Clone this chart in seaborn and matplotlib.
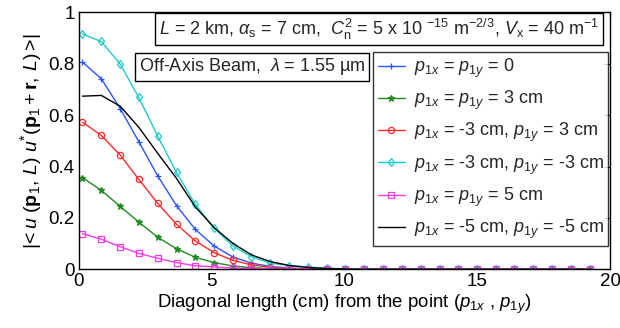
import numpy as np
import pandas as pd
import matplotlib
matplotlib.use("Agg")
import matplotlib.pyplot as plt
import seaborn as sns

sns.set_theme(style="white")
plt.rcParams['font.family'] = ['Liberation Sans', 'DejaVu Sans']
plt.rcParams['mathtext.fontset'] = 'custom'
plt.rcParams['mathtext.rm'] = 'Liberation Sans'
plt.rcParams['mathtext.it'] = 'Liberation Sans:italic'
plt.rcParams['mathtext.bf'] = 'Liberation Sans:bold'

# diagonal distance (cm)
dist = [0.14, 0.85, 1.56, 2.26, 2.97, 3.68, 4.38, 5.09, 5.80, 6.50,
        7.21, 7.92, 8.63, 9.33, 10.04, 10.75, 11.45, 12.16, 12.87, 13.58,
        14.28, 14.99, 15.70, 16.40, 17.11, 17.82, 18.53, 19.23]

# |<u u*>| for each beam offset
p_0_0 = [0.807, 0.742, 0.626, 0.497, 0.364, 0.248, 0.156, 0.091, 0.048, 0.024,
         0.011, 0.005, 0.002, 0.001, 0, 0, 0, 0, 0, 0, 0, 0, 0, 0, 0, 0, 0, 0]
p_3_3 = [0.357, 0.307, 0.245, 0.184, 0.125, 0.080, 0.047, 0.026, 0.013, 0.006,
         0.003, 0.001, 0, 0, 0, 0, 0, 0, 0, 0, 0, 0, 0, 0, 0, 0, 0, 0]
p_m3_3 = [0.573, 0.521, 0.445, 0.350, 0.257, 0.175, 0.111, 0.065, 0.035, 0.017,
          0.008, 0.003, 0.001, 0, 0, 0, 0, 0, 0, 0, 0, 0, 0, 0, 0, 0, 0, 0]
p_m3_m3 = [0.916, 0.887, 0.799, 0.669, 0.519, 0.377, 0.254, 0.160, 0.091, 0.049,
           0.024, 0.014, 0.009, 0.004, 0.002, 0.001, 0, 0, 0, 0, 0, 0, 0, 0, 0, 0, 0, 0]
p_5_5 = [0.139, 0.117, 0.088, 0.062, 0.043, 0.026, 0.014, 0.009, 0.005, 0.003,
         0.001, 0, 0, 0, 0, 0, 0, 0, 0, 0, 0, 0, 0, 0, 0, 0, 0, 0]
p_m5_m5 = [0.674, 0.677, 0.635, 0.553, 0.452, 0.354, 0.244, 0.163, 0.101, 0.056,
           0.030, 0.015, 0.007, 0.003, 0.001, 0, 0, 0, 0, 0, 0, 0, 0, 0, 0, 0, 0, 0]

labels = [r'$p_{1x}$ = $p_{1y}$ = 0',
          r'$p_{1x}$ = $p_{1y}$ = 3 cm',
          r'$p_{1x}$ = -3 cm, $p_{1y}$ = 3 cm',
          r'$p_{1x}$ = -3 cm, $p_{1y}$ = -3 cm',
          r'$p_{1x}$ = $p_{1y}$ = 5 cm',
          r'$p_{1x}$ = -5 cm, $p_{1y}$ = -5 cm']
series = [p_0_0, p_3_3, p_m3_3, p_m3_m3, p_5_5, p_m5_m5]
colors = ['#2a55ff', '#1f8a1f', '#ff2a2a', '#22cccc', '#f53be6', '#000000']
markers = ['+', '*', 'o', 'd', 's', None]

fig, ax = plt.subplots(figsize=(6.2, 3.28), dpi=100)
fig.subplots_adjust(left=0.127, right=0.984, top=0.962, bottom=0.179)

for lab, ys, c, m in zip(labels, series, colors, markers):
    df = pd.DataFrame({"x": dist, "y": ys})
    sns.lineplot(data=df, x="x", y="y", ax=ax, color=c, marker=m, label=lab,
                 linewidth=1.0, markersize=4.5 if m != '*' else 5,
                 markerfacecolor='none' if m in ('o', 'd', 's') else c,
                 markeredgecolor=c, markeredgewidth=0.9)

ax.set_xlim(0, 20)
ax.set_ylim(0, 1)
ax.set_xticks([0, 5, 10, 15, 20])
ax.set_xticklabels(['0', '5', '10', '15', '20'])
ax.set_yticks([0, 0.2, 0.4, 0.6, 0.8, 1])
ax.set_yticklabels(['0', '0.2', '0.4', '0.6', '0.8', '1'])
ax.tick_params(direction='in', length=4, width=0.8, top=True, right=True,
               labelsize=13.5, colors='black', pad=3)
for sp in ax.spines.values():
    sp.set_color('black')
    sp.set_linewidth(1.0)

ax.set_xlabel(r'Diagonal length (cm) from the point ($p_{1x}$ , $p_{1y}$)',
              fontsize=13.4, color='black', labelpad=2)
ax.set_ylabel(r'$|\!<u\ (\mathbf{p}_1,\,L)\ u^{*}(\mathbf{p}_1+\mathbf{r},\,L)>\!|$',
              fontsize=14, color='black', labelpad=3)

ax.text(0.565, 0.935,
        r'$L$ = 2 km, $\alpha_{\rm s}$ = 7 cm,  $C_{\rm n}^2$ = 5 x 10 $^{-15}$ m$^{-2/3}$, $V_{\rm x}$ = 40 m$^{-1}$',
        transform=ax.transAxes, ha='center', va='center', fontsize=13,
        bbox=dict(boxstyle='square,pad=0.2', fc='white', ec='black', lw=1.0))
ax.text(0.326, 0.789, r'Off-Axis Beam,  $\lambda$ = 1.55 µm',
        transform=ax.transAxes, ha='center', va='center', fontsize=13,
        bbox=dict(boxstyle='square,pad=0.2', fc='white', ec='black', lw=1.0))

leg = ax.legend(loc='upper right', bbox_to_anchor=(0.997, 0.845), fontsize=13,
                frameon=True, fancybox=False, edgecolor='black', handlelength=1.5,
                handletextpad=0.5, borderpad=0.25, labelspacing=0.5,
                borderaxespad=0)
leg.get_frame().set_linewidth(1.0)

fig.savefig("out.png", dpi=100, facecolor='white')
